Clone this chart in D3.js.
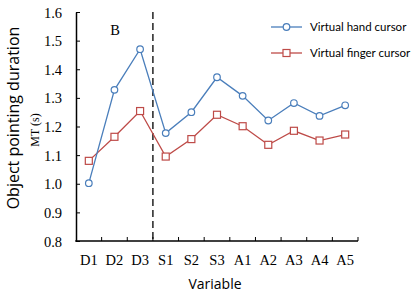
<!DOCTYPE html>
<html>
<head>
<meta charset="utf-8">
<script src="https://cdn.jsdelivr.net/npm/d3@7"></script>
<style>
  body { margin: 0; background: #fff; }
  svg { display: block; }
  .tick-label { font-family: "Liberation Serif", "Times New Roman", serif; font-size: 14.5px; fill: #000; }
</style>
</head>
<body>
<svg id="chart"></svg>
<script>
// chart values
var categories = ["D1", "D2", "D3", "S1", "S2", "S3", "A1", "A2", "A3", "A4", "A5"];
var handValues = [1.002, 1.328, 1.470, 1.177, 1.250, 1.372, 1.307, 1.221, 1.282, 1.237, 1.274];
var fingerValues = [1.080, 1.164, 1.254, 1.095, 1.156, 1.241, 1.201, 1.136, 1.185, 1.151, 1.172];
var yTicks = [0.8, 0.9, 1.0, 1.1, 1.2, 1.3, 1.4, 1.5, 1.6];
var seriesNames = ["Virtual hand cursor", "Virtual finger cursor"];

var width = 413, height = 294;
var svg = d3.select("svg#chart").attr("width", width).attr("height", height);

var plotLeft = 76, plotRight = 358, plotTop = 12, plotBottom = 241;

var x = d3.scaleBand()
    .domain(categories)
    .range([plotLeft, plotRight]);

var y = d3.scaleLinear()
    .domain([0.8, 1.6])
    .range([plotBottom, plotTop]);

var blue = "#4a7ebb", red = "#be4b48";

function cx(i) { return x(categories[i]) + x.bandwidth() / 2; }

// y axis
var yAxis = svg.append("g")
    .attr("transform", "translate(" + plotLeft + ",0)")
    .call(d3.axisLeft(y).tickValues(yTicks).tickSizeInner(-4).tickSizeOuter(0)
      .tickFormat(d3.format(".1f")).tickPadding(14));
yAxis.select(".domain").attr("stroke", "#000").attr("stroke-width", 1.5);
yAxis.selectAll(".tick line").attr("stroke", "#000");
yAxis.selectAll("text").attr("class", "tick-label").attr("font-family", null).attr("font-size", null)
    .attr("dy", "0.35em");

// x axis: ticks sit on the category boundaries
var boundaries = d3.range(1, categories.length + 1).map(function (i) { return plotLeft + i * x.bandwidth(); });

var xAxisG = svg.append("g");
xAxisG.append("line")
    .attr("x1", plotLeft - 0.75).attr("x2", plotRight)
    .attr("y1", plotBottom).attr("y2", plotBottom)
    .attr("stroke", "#000").attr("stroke-width", 1.5);
xAxisG.selectAll(".xtick")
    .data(boundaries)
    .enter().append("line")
    .attr("x1", function (d) { return d; })
    .attr("x2", function (d) { return d; })
    .attr("y1", plotBottom).attr("y2", plotBottom - 4)
    .attr("stroke", "#000").attr("stroke-width", 1);
xAxisG.selectAll(".xlabel")
    .data(categories)
    .enter().append("text")
    .attr("class", "tick-label")
    .attr("x", function (d) { return x(d) + x.bandwidth() / 2; })
    .attr("y", plotBottom + 24)
    .attr("text-anchor", "middle")
    .text(function (d) { return d; });

// dashed separator between D3 and S1
svg.append("line")
    .attr("x1", x("S1")).attr("x2", x("S1"))
    .attr("y1", plotTop).attr("y2", plotBottom)
    .attr("stroke", "#000").attr("stroke-width", 1.3)
    .attr("stroke-dasharray", "7,4");

// series
var line = d3.line()
    .x(function (d, i) { return cx(i); })
    .y(function (d) { return y(d); });

svg.append("path").datum(fingerValues)
    .attr("d", line).attr("fill", "none").attr("stroke", red).attr("stroke-width", 1.3);
svg.append("path").datum(handValues)
    .attr("d", line).attr("fill", "none").attr("stroke", blue).attr("stroke-width", 1.3);

svg.selectAll(".finger")
    .data(fingerValues)
    .enter().append("rect")
    .attr("x", function (d, i) { return cx(i) - 3.5; })
    .attr("y", function (d) { return y(d) - 3.5; })
    .attr("width", 7).attr("height", 7)
    .attr("fill", "#fff").attr("stroke", red).attr("stroke-width", 1.2);

svg.selectAll(".hand")
    .data(handValues)
    .enter().append("circle")
    .attr("cx", function (d, i) { return cx(i); })
    .attr("cy", function (d) { return y(d); })
    .attr("r", 3.3)
    .attr("fill", "#fff").attr("stroke", blue).attr("stroke-width", 1.2);

// texts
svg.append("text")
    .attr("class", "tick-label")
    .attr("x", 115).attr("y", 35)
    .attr("text-anchor", "middle")
    .text("B");

svg.append("text")
    .attr("transform", "translate(19,118) rotate(-90)")
    .attr("text-anchor", "middle")
    .style("font-family", "'Open Sans', sans-serif")
    .style("font-size", "16px")
    .text("Object pointing duration");

svg.append("text")
    .attr("transform", "translate(39,130) rotate(-90)")
    .attr("text-anchor", "middle")
    .style("font-family", "'Liberation Serif', serif")
    .style("font-size", "12px")
    .text("MT (s)");

svg.append("text")
    .attr("x", 215).attr("y", 289)
    .attr("text-anchor", "middle")
    .style("font-family", "'Open Sans', sans-serif")
    .style("font-size", "14px")
    .text("Variable");

// legend
var legend = svg.selectAll(".legend")
    .data(seriesNames)
    .enter().append("g")
    .attr("transform", function (d, i) { return "translate(271," + (27 + i * 26) + ")"; });
legend.append("line")
    .attr("x1", 0).attr("x2", 31)
    .attr("stroke", function (d, i) { return i === 0 ? blue : red; })
    .attr("stroke-width", 1.3);
legend.filter(function (d, i) { return i === 0; }).append("circle")
    .attr("cx", 15.5).attr("r", 3.3)
    .attr("fill", "#fff").attr("stroke", blue).attr("stroke-width", 1.2);
legend.filter(function (d, i) { return i === 1; }).append("rect")
    .attr("x", 12).attr("y", -3.5).attr("width", 7).attr("height", 7)
    .attr("fill", "#fff").attr("stroke", red).attr("stroke-width", 1.2);
legend.append("text")
    .attr("x", 39).attr("y", 4)
    .style("font-family", "Lato, sans-serif")
    .style("font-size", "11.5px")
    .text(function (d) { return d; });
</script>
</body>
</html>
